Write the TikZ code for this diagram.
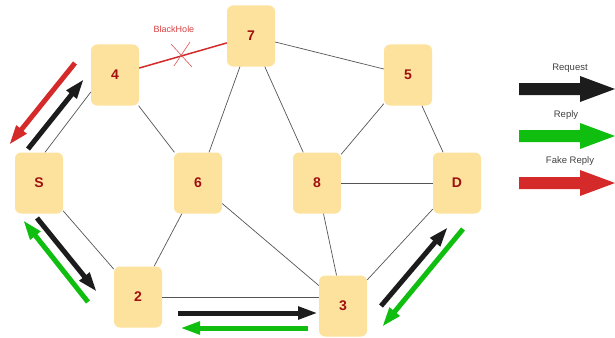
\documentclass[tikz,border=0pt]{standalone}
\usepackage{fontspec}
\setmainfont{Liberation Sans}
\usetikzlibrary{arrows.meta}
\definecolor{nodefill}{HTML}{FDE29D}
\definecolor{labred}{HTML}{A01010}
\definecolor{edgegray}{HTML}{555555}
\definecolor{arrblack}{HTML}{1C1C1C}
\definecolor{arrgreen}{HTML}{10BE10}
\definecolor{arrred}{HTML}{D42A2A}
\tikzset{
  nd/.style={draw=none, fill=nodefill, rounded corners=6pt, minimum width=48pt, minimum height=61pt,
    font=\fontsize{14}{14}\selectfont\bfseries, text=labred, inner sep=0pt},
  edge/.style={draw=edgegray, line width=0.7pt},
  flow/.style={line width=5pt, -{Triangle[length=20pt,width=12pt]}},
  legtext/.style={font=\fontsize{9.5}{9.5}\selectfont, text=black!75}
}
\begin{document}
\begin{tikzpicture}[x=1pt,y=-1pt]
\useasboundingbox (0,0) rectangle (615,337);
% nodes
\node[nd] (n4) at (115,75) {4};
\node[nd] (n7) at (251,36) {7};
\node[nd] (n5) at (408,75) {5};
\node[nd] (S) at (39,183) {S};
\node[nd] (n6) at (198,183) {6};
\node[nd] (n8) at (317,183) {8};
\node[nd] (D) at (457,183) {D};
\node[nd] (n2) at (138,297) {2};
\node[nd] (n3) at (343,306) {3};
% edges
\draw[edge] ([xshift=6pt]S.north) -- ([yshift=-17pt]n4.west);
\draw[edge] (n4) -- (n6);
\draw[edge] (n7) -- (n6);
\draw[edge] (n7) -- (n8);
\draw[edge] (n7) -- (n5);
\draw[edge] (n5) -- (n8);
\draw[edge] (n5) -- (D);
\draw[edge] (S) -- (n2);
\draw[edge] (n6) -- (n2);
\draw[edge] (n6) -- (n3);
\draw[edge] (n8) -- (D);
\draw[edge] (n8) -- (n3);
\draw[edge] (n2.east) -- (n2.east -| n3.west);
\draw[edge] (n3) -- (D);
\draw[draw=arrred, line width=1.5pt] (n4) -- (n7);
% blackhole
\node[font=\fontsize{9}{9}\selectfont, text=arrred!90] (bh) at (174,29) {BlackHole};
\draw[arrred!80, line width=0.6pt] (171,44) -- (192,67);
\draw[arrred!80, line width=0.6pt] (174,66) -- (190,42);
% flow arrows
\draw[flow, arrblack] (28,149) coordinate (a1) -- (84,79) coordinate (a2);
\draw[flow, arrred] (75,63) coordinate (a3) -- (9,145) coordinate (a4);
\draw[flow, arrblack] (37,218) coordinate (a5) -- (97,292) coordinate (a6);
\draw[flow, arrgreen] (88,302) coordinate (a7) -- (23,220) coordinate (a8);
\draw[flow, arrblack] (178,313) coordinate (a9) -- (318,313) coordinate (a10);
\draw[flow, arrgreen] (308,328) coordinate (a11) -- (180,328) coordinate (a12);
\draw[flow, arrblack] (381,306) coordinate (a13) -- (448,227) coordinate (a14);
\draw[flow, arrgreen] (463,229) coordinate (a15) -- (382,327) coordinate (a16);
% legend
\node[legtext] (lreq) at (570,68) {Request};
\node[legtext] (lrep) at (566,115) {Reply};
\node[legtext] (lfake) at (570,161) {Fake Reply};
\fill[arrblack] (519,83) -- (580,83) -- (580,76) -- (615,89) -- (580,102) -- (580,95) -- (519,95) -- cycle;
\fill[arrgreen] (519,130) -- (580,130) -- (580,123) -- (615,136) -- (580,149) -- (580,142) -- (519,142) -- cycle;
\fill[arrred] (519,177) -- (580,177) -- (580,170) -- (615,183) -- (580,196) -- (580,189) -- (519,189) -- cycle;
\end{tikzpicture}
\end{document}
